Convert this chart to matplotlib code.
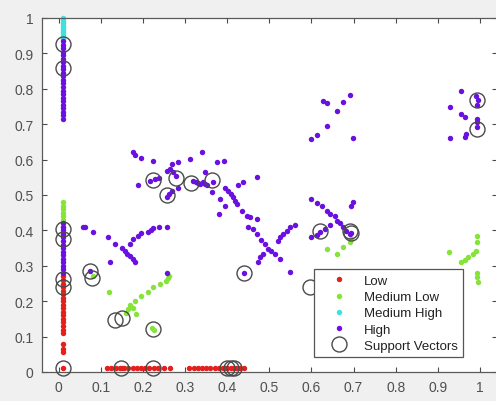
import matplotlib
matplotlib.use("Agg")
import matplotlib.pyplot as plt

plt.rcParams['font.family'] = ['Liberation Sans', 'DejaVu Sans']

# ---- data ----
low_x = [0.01] * 21 + [0.115, 0.125, 0.135, 0.145, 0.15, 0.155, 0.165, 0.175, 0.185, 0.195,
                       0.205, 0.215, 0.225, 0.235, 0.25, 0.265,
                       0.31, 0.32, 0.33, 0.34, 0.35, 0.36, 0.37, 0.38, 0.39, 0.395,
                       0.40, 0.41, 0.415, 0.42, 0.43, 0.44]
low_y = [0.27, 0.26, 0.25, 0.24, 0.23, 0.22, 0.21, 0.20, 0.19, 0.18, 0.17, 0.16, 0.15,
         0.14, 0.13, 0.12, 0.11, 0.08, 0.065, 0.057, 0.01] + [0.01] * 32

medlow_x = [0.01] * 8 + [0.08, 0.119,
                         0.159, 0.165, 0.172, 0.168, 0.176, 0.184, 0.181, 0.196, 0.212, 0.224,
                         0.24, 0.255, 0.26, 0.262,
                         0.222, 0.226,
                         0.636, 0.66, 0.675, 0.691, 0.695,
                         0.927, 0.956, 0.964, 0.972, 0.984, 0.992, 0.994, 0.994, 0.994, 0.994, 0.996]
medlow_y = [0.41, 0.42, 0.43, 0.44, 0.45, 0.46, 0.47, 0.48] + [0.27, 0.226,
                         0.168, 0.178, 0.185, 0.19, 0.18, 0.164, 0.2, 0.216, 0.225, 0.239,
                         0.248, 0.258, 0.265, 0.27,
                         0.125, 0.118,
                         0.347, 0.333, 0.352, 0.366, 0.375,
                         0.338, 0.31, 0.315, 0.324, 0.333, 0.343, 0.366, 0.385, 0.281, 0.267, 0.253]

medhigh_x = [0.01] * 13
medhigh_y = [0.94, 0.945, 0.95, 0.955, 0.96, 0.965, 0.97, 0.975, 0.98, 0.985, 0.99, 0.995, 1.0]

high_col_y = [0.715, 0.725, 0.735, 0.745, 0.755, 0.765, 0.775, 0.785, 0.795, 0.805, 0.815,
              0.825, 0.835, 0.845, 0.855, 0.865, 0.875, 0.885, 0.895, 0.905, 0.915, 0.925, 0.935,
              0.28, 0.29, 0.30, 0.31, 0.32, 0.33, 0.34, 0.35, 0.36, 0.37, 0.38, 0.39, 0.40, 0.41, 0.42]
high_x = [0.01] * len(high_col_y) + [
    # upper-left cluster
    0.175, 0.18, 0.196, 0.224, 0.268, 0.283, 0.311, 0.339,
    0.264, 0.256, 0.272, 0.279, 0.228, 0.216, 0.238, 0.188,
    0.256, 0.262, 0.268, 0.283, 0.319, 0.325, 0.33, 0.336, 0.342, 0.348, 0.353,
    0.375, 0.392, 0.347, 0.367, 0.394, 0.402, 0.41, 0.414, 0.418, 0.422, 0.434,
    0.426, 0.438, 0.47, 0.363, 0.382, 0.394, 0.381,
    # central X
    0.446, 0.454, 0.47, 0.45, 0.462, 0.47, 0.48, 0.489, 0.497, 0.505, 0.485, 0.477, 0.473,
    0.513, 0.525, 0.521, 0.525, 0.533, 0.541, 0.549, 0.561, 0.549, 0.439,
    # Y-shape cluster
    0.058, 0.062, 0.08, 0.117, 0.133, 0.149, 0.157, 0.161, 0.169, 0.177, 0.181, 0.121,
    0.169, 0.177, 0.188, 0.196, 0.212, 0.22, 0.224, 0.238, 0.257, 0.257, 0.074,
    # upper middle-right
    0.628, 0.636, 0.674, 0.691, 0.661, 0.636, 0.614, 0.6, 0.698,
    # lower middle-right
    0.6, 0.612, 0.624, 0.636, 0.644, 0.656, 0.661, 0.667, 0.675, 0.683, 0.691,
    0.698, 0.695, 0.644, 0.632, 0.62, 0.6, 0.612, 0.695,
    # right cluster
    0.956, 0.929, 0.956, 0.964, 0.992, 0.996, 0.994, 0.994, 0.994, 0.994, 0.929, 0.964, 0.968]
high_y = high_col_y + [
    0.621, 0.613, 0.604, 0.597, 0.588, 0.592, 0.602, 0.621,
    0.573, 0.569, 0.564, 0.555, 0.545, 0.54, 0.547, 0.527,
    0.493, 0.503, 0.512, 0.521, 0.54, 0.536, 0.533, 0.53, 0.538, 0.532, 0.527,
    0.592, 0.597, 0.564, 0.536, 0.521, 0.512, 0.503, 0.493, 0.484, 0.475, 0.456,
    0.527, 0.536, 0.55, 0.508, 0.489, 0.47, 0.446,
    0.442, 0.437, 0.432, 0.411, 0.404, 0.39, 0.372, 0.362, 0.347, 0.343, 0.333, 0.324, 0.31,
    0.333, 0.319, 0.371, 0.38, 0.39, 0.399, 0.409, 0.414, 0.283, 0.28,
    0.409, 0.41, 0.395, 0.38, 0.362, 0.349, 0.343, 0.333, 0.329, 0.319, 0.312, 0.312,
    0.362, 0.376, 0.383, 0.393, 0.396, 0.402, 0.406, 0.409, 0.411, 0.28, 0.285,
    0.766, 0.76, 0.762, 0.782, 0.736, 0.694, 0.669, 0.658, 0.66,
    0.489, 0.477, 0.47, 0.456, 0.447, 0.44, 0.427, 0.421, 0.409, 0.399, 0.39,
    0.479, 0.47, 0.414, 0.404, 0.395, 0.38, 0.388, 0.393,
    0.795, 0.748, 0.729, 0.719, 0.781, 0.767, 0.754, 0.716, 0.705, 0.691, 0.66, 0.663, 0.672]

sv_x = [0.01, 0.01, 0.01, 0.01, 0.01, 0.01, 0.01,
        0.074, 0.078, 0.133, 0.149, 0.224,
        0.147, 0.224, 0.399, 0.409, 0.416,
        0.224, 0.279, 0.315, 0.258, 0.364,
        0.439, 0.596, 0.62, 0.691, 0.695, 0.994, 0.994]
sv_y = [0.927, 0.859, 0.404, 0.375, 0.262, 0.24, 0.01,
        0.285, 0.265, 0.148, 0.152, 0.121,
        0.01, 0.01, 0.01, 0.01, 0.01,
        0.542, 0.547, 0.533, 0.499, 0.542,
        0.28, 0.24, 0.398, 0.399, 0.393, 0.769, 0.686]

labels = ["Low", "Medium Low", "Medium High", "High", "Support Vectors"]
colors = ["#e3201c", "#86e33a", "#3fe0e0", "#6a10e0"]
ticks = [0, 0.1, 0.2, 0.3, 0.4, 0.5, 0.6, 0.7, 0.8, 0.9, 1]
tick_labels = ["0", "0.1", "0.2", "0.3", "0.4", "0.5", "0.6", "0.7", "0.8", "0.9", "1"]

# ---- figure ----
fig = plt.figure(figsize=(4.96, 4.02), dpi=100, facecolor="#f0f0f0")
ax = fig.add_axes([42 / 496, 29 / 402, 454.7 / 496, 354 / 402])
ax.set_facecolor("white")

for (xs, ys), c, lab in zip([(low_x, low_y), (medlow_x, medlow_y),
                             (medhigh_x, medhigh_y), (high_x, high_y)], colors, labels[:4]):
    ax.plot(xs, ys, linestyle="none", marker="o", markersize=3.9, color=c,
            markeredgewidth=0, label=lab, clip_on=False, zorder=2)

ax.plot(sv_x, sv_y, linestyle="none", marker="o", markersize=10.8, markerfacecolor="none",
        markeredgecolor="#4a4a4a", markeredgewidth=1.0, label=labels[4], clip_on=False, zorder=3)

ax.set_xlim(-0.04, 1.04)
ax.set_ylim(0, 1)
ax.set_xticks(ticks)
ax.set_xticklabels(tick_labels)
ax.set_yticks(ticks)
ax.set_yticklabels(tick_labels)
ax.tick_params(direction="in", length=3.5, width=0.8, top=True, right=True,
               labelsize=10, colors="#4a4a4a", labelcolor="#505050", pad=6)
for s in ax.spines.values():
    s.set_color("#5a5a5a")
    s.set_linewidth(0.9)

leg = ax.legend(loc="lower right", bbox_to_anchor=((463 - 42) / 454.7, 15 / 354),
                borderaxespad=0, fontsize=9.5, frameon=True, fancybox=False,
                handlelength=3.0, handletextpad=0.4, labelspacing=0.3, borderpad=0.4,
                numpoints=1, edgecolor="#555555", facecolor="white", framealpha=1)
leg.get_frame().set_linewidth(0.9)
leg.set_zorder(5)
for t in leg.get_texts():
    t.set_color("#222222")

fig.savefig("out.png", dpi=100, facecolor=fig.get_facecolor())
